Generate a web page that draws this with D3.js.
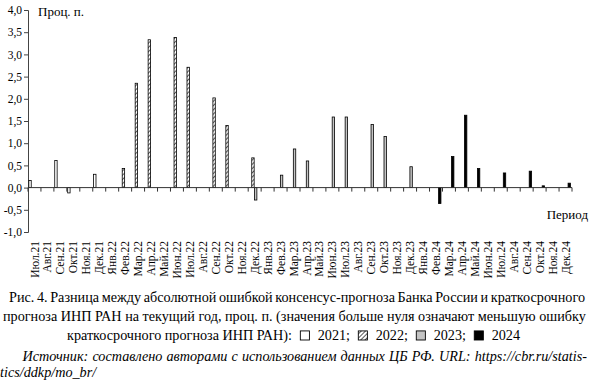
<!DOCTYPE html>
<html><head><meta charset="utf-8">
<script src="https://cdn.jsdelivr.net/npm/d3@7"></script>
<style>
body{margin:0;background:#fff;}
</style></head>
<body><svg id="c" width="590" height="383"></svg>
<script>
const categories = ["Июл.21","Авг.21","Сен.21","Окт.21","Ноя.21","Дек.21",
 "Янв.22","Фев.22","Мар.22","Апр.22","Май.22","Июн.22","Июл.22","Авг.22","Сен.22","Окт.22","Ноя.22","Дек.22",
 "Янв.23","Фев.23","Мар.23","Апр.23","Май.23","Июн.23","Июл.23","Авг.23","Сен.23","Окт.23","Ноя.23","Дек.23",
 "Янв.24","Фев.24","Мар.24","Апр.24","Май.24","Июн.24","Июл.24","Авг.24","Сен.24","Окт.24","Ноя.24","Дек.24"];
const seriesNames = ["2021","2022","2023","2024"];
const v2021 = [0.16,null,0.61,-0.12,null,0.30, null,null,null,null,null,null,null,null,null,null,null,null,
 null,null,null,null,null,null,null,null,null,null,null,null, null,null,null,null,null,null,null,null,null,null,null,null];
const v2022 = [null,null,null,null,null,null, null,0.43,2.35,3.33,null,3.38,2.71,null,2.02,1.40,null,0.67,
 null,null,null,null,null,null,null,null,null,null,null,null, null,null,null,null,null,null,null,null,null,null,null,null];
const v2023 = [null,null,null,null,null,null, null,null,null,null,null,null,null,null,null,null,null,-0.28,
 null,0.28,0.87,0.60,null,1.59,1.59,null,1.42,1.15,null,0.47, null,null,null,null,null,null,null,null,null,null,null,null];
const v2024 = [null,null,null,null,null,null, null,null,null,null,null,null,null,null,null,null,null,null,
 null,null,null,null,null,null,null,null,null,null,null,null, null,-0.36,0.70,1.63,0.43,null,0.33,null,0.37,0.04,null,0.10];
const yTicks = [-1,-0.5,0,0.5,1,1.5,2,2.5,3,3.5,4];
const yLabel = "Проц. п.";
const xLabel = "Период";
const caption = [
 "Рис. 4. Разница между абсолютной ошибкой консенсус-прогноза Банка России и краткосрочного",
 "прогноза ИНП РАН на текущий год, проц. п. (значения больше нуля означают меньшую ошибку",
 "краткосрочного прогноза ИНП РАН):"
];
const source = ["Источник: составлено авторами с использованием данных ЦБ РФ. URL: https://cbr.ru/statis-",
 "tics/ddkp/mo_br/"];

const svg = d3.select("#c");
const FONT = "'Liberation Serif', 'Times New Roman', serif";

const defs = svg.append("defs");
const pat = defs.append("pattern").attr("id","hatch").attr("patternUnits","userSpaceOnUse")
  .attr("width",3).attr("height",3).attr("patternTransform","rotate(45)");
pat.append("rect").attr("width",3).attr("height",3).attr("fill","#fff");
pat.append("line").attr("x1",0).attr("y1",0).attr("x2",0).attr("y2",3).attr("stroke","#000").attr("stroke-width",1.3);

const fills = {"2021":"#ffffff","2022":"url(#hatch)","2023":"#c4c4c4","2024":"#000000"};
const seriesVals = {"2021":v2021,"2022":v2022,"2023":v2023,"2024":v2024};

const x = d3.scaleBand().domain(categories).range([28,572]).padding(0);
const xi = d3.scaleBand().domain(seriesNames).range([0.5, x.bandwidth()-1.2]).padding(0.12);
const y = d3.scaleLinear().domain([-1,4]).range([232,10]);

const yAxis = svg.append("g").attr("transform","translate(28,0)")
  .call(d3.axisLeft(y).tickValues(yTicks).tickSize(4).tickFormat(d=>d3.format(".1f")(d).replace(".",",").replace("−","-")));
yAxis.attr("font-family",FONT);
yAxis.select(".domain").attr("stroke","#444");
yAxis.selectAll(".tick line").attr("stroke","#444");
yAxis.selectAll("text").attr("font-size","11.5px").attr("fill","#000").attr("x",-6);

seriesNames.forEach(s=>{
  const data = categories.map((c,i)=>({c, v: seriesVals[s][i]})).filter(d=>d.v!==null);
  svg.append("g").selectAll("rect").data(data).join("rect")
    .attr("x", d=>x(d.c)+xi(s))
    .attr("width", xi.bandwidth())
    .attr("y", d=>y(Math.max(0,d.v)))
    .attr("height", d=>Math.abs(y(d.v)-y(0)))
    .attr("fill", fills[s]).attr("stroke","#000").attr("stroke-width",0.8);
});

const xAxis = svg.append("g").attr("transform",`translate(0,${y(0)})`);
xAxis.append("line").attr("x1",28).attr("x2",572).attr("stroke","#333").attr("stroke-width",1);
const bounds = categories.map(c=>x(c)).concat([x.range()[1]]);
xAxis.selectAll("line.t").data(bounds).join("line").attr("class","t")
  .attr("x1",d=>d).attr("x2",d=>d).attr("y1",0).attr("y2",4).attr("stroke","#333");

svg.append("g").attr("font-family",FONT).selectAll("text").data(categories).join("text")
  .attr("transform", d=>`translate(${x(d)+x.bandwidth()/2},241) rotate(-90)`)
  .attr("text-anchor","end").attr("dy","0.35em").attr("font-size","11.5px").text(d=>d);

svg.append("text").attr("font-family",FONT).attr("x",38).attr("y",16).attr("font-size","13px").text(yLabel);
svg.append("text").attr("font-family",FONT).attr("x",588).attr("y",219).attr("text-anchor","end").attr("font-size","13px").text(xLabel);

// caption paragraph
const base = [302,321,340];
function fitLine(t, x0, x1, str){
  const w = t.node().getComputedTextLength();
  const n = str.split(" ").length-1;
  t.attr("x",x0).attr("word-spacing", ((x1-x0)-w)/n);
}
const t2 = svg.append("text").attr("font-family",FONT).attr("font-size","14px").attr("y",base[1]).text(caption[1]);
const fs = 14*583/t2.node().getComputedTextLength();
t2.attr("font-size",fs+"px").attr("x",3);
const t1 = svg.append("text").attr("font-family",FONT).attr("font-size",fs+"px").attr("y",base[0]).text(caption[0]);
fitLine(t1, 9, 585, caption[0]);

// legend line, spanning 67..520
const box = fs*0.64;
const parts = [{t:caption[2]}];
seriesNames.forEach((s,i)=>{ parts.push({b:s}); parts.push({t: s + (i<3?";":"")}); });
const g3 = svg.append("g").attr("font-family",FONT);
const nodes = parts.map(p=>{
  if(p.t!==undefined){
    const t = g3.append("text").attr("y",base[2]).attr("font-size",fs+"px").text(p.t);
    return {p, el:t, w:t.node().getComputedTextLength()};
  }
  const r = g3.append("rect").attr("y",base[2]-box).attr("width",box).attr("height",box)
      .attr("fill",fills[p.b]).attr("stroke","#000").attr("stroke-width",0.9);
  return {p, el:r, w:box};
});
const totalW = d3.sum(nodes, d=>d.w);
const gap = ((520-67) - totalW)/(nodes.length-1);
let cx = 67;
nodes.forEach(d=>{ d.el.attr("x",cx); cx += d.w + gap; });

// source paragraph (justified, italic)
const s1 = svg.append("text").attr("font-family",FONT).attr("y",361).attr("font-size",fs+"px").attr("font-style","italic").text(source[0]);
fitLine(s1, 22.5, 587, source[0]);
svg.append("text").attr("font-family",FONT).attr("x",0).attr("y",377).attr("font-size",fs+"px").attr("font-style","italic").text(source[1]);
</script></body></html>
